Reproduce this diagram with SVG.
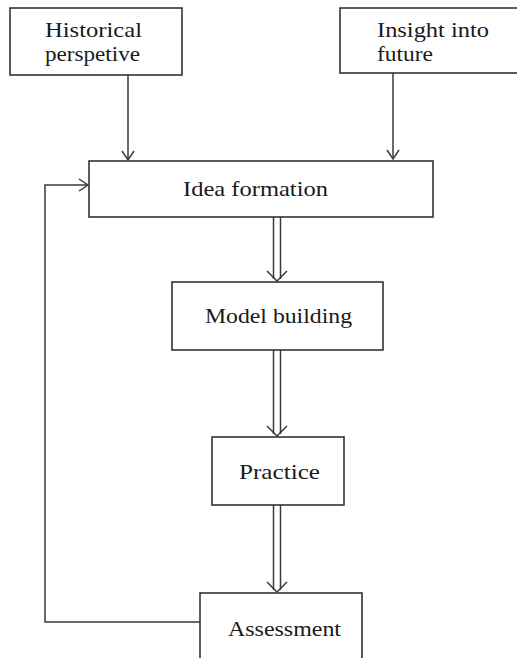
<svg xmlns="http://www.w3.org/2000/svg" width="517" height="658" viewBox="0 0 517 658">
  <style>
    .box { fill: #fff; stroke: #333; stroke-width: 1.6; }
    .line { fill: none; stroke: #3a3a3a; stroke-width: 1.5; }
    .head { fill: none; stroke: #3a3a3a; stroke-width: 1.5; stroke-linejoin: miter; }
    text { font-family: "Liberation Serif", "Times New Roman", serif; font-size: 22px; fill: #1a1a1a; }
  </style>
  <rect width="517" height="658" fill="#fff"/>

  <g id="connectors">
    <!-- single arrows into Idea formation -->
    <line class="line" x1="128" y1="75" x2="128" y2="160"/>
    <polyline class="head" points="122,151 128,160 134,151"/>
    <line class="line" x1="393" y1="73" x2="393" y2="159"/>
    <polyline class="head" points="387,150 393,159 399,150"/>

    <!-- double arrows down the main chain -->
    <line class="line" x1="273.5" y1="217" x2="273.5" y2="279"/>
    <line class="line" x1="280.5" y1="217" x2="280.5" y2="279"/>
    <polyline class="head" points="267,271 277,281 287,271"/>

    <line class="line" x1="273.5" y1="350" x2="273.5" y2="434"/>
    <line class="line" x1="280.5" y1="350" x2="280.5" y2="434"/>
    <polyline class="head" points="267,426 277,436 287,426"/>

    <line class="line" x1="273.5" y1="505" x2="273.5" y2="590"/>
    <line class="line" x1="280.5" y1="505" x2="280.5" y2="590"/>
    <polyline class="head" points="267,582 277,592 287,582"/>

    <!-- feedback loop from Assessment back to Idea formation -->
    <polyline class="line" points="200,622 45,622 45,185 88,185"/>
    <polyline class="head" points="79,179 88,185 79,191"/>
  </g>

  <g id="historical">
    <rect class="box" x="10" y="8" width="172" height="67"/>
    <text x="45" y="37" textLength="97" lengthAdjust="spacingAndGlyphs">Historical</text>
    <text x="45" y="61" textLength="95" lengthAdjust="spacingAndGlyphs">perspetive</text>
  </g>

  <g id="insight">
    <rect class="box" x="340" y="8" width="185" height="65"/>
    <text x="377" y="37" textLength="112" lengthAdjust="spacingAndGlyphs">Insight into</text>
    <text x="377" y="61" textLength="56" lengthAdjust="spacingAndGlyphs">future</text>
  </g>

  <g id="idea-formation">
    <rect class="box" x="89" y="161" width="344" height="56"/>
    <text x="183" y="196" textLength="145" lengthAdjust="spacingAndGlyphs">Idea formation</text>
  </g>

  <g id="model-building">
    <rect class="box" x="172" y="282" width="211" height="68"/>
    <text x="205" y="323" textLength="147" lengthAdjust="spacingAndGlyphs">Model building</text>
  </g>

  <g id="practice">
    <rect class="box" x="212" y="437" width="132" height="68"/>
    <text x="239" y="479" textLength="81" lengthAdjust="spacingAndGlyphs">Practice</text>
  </g>

  <g id="assessment">
    <rect class="box" x="200" y="593" width="162" height="80"/>
    <text x="228" y="636" textLength="113" lengthAdjust="spacingAndGlyphs">Assessment</text>
  </g>
</svg>
